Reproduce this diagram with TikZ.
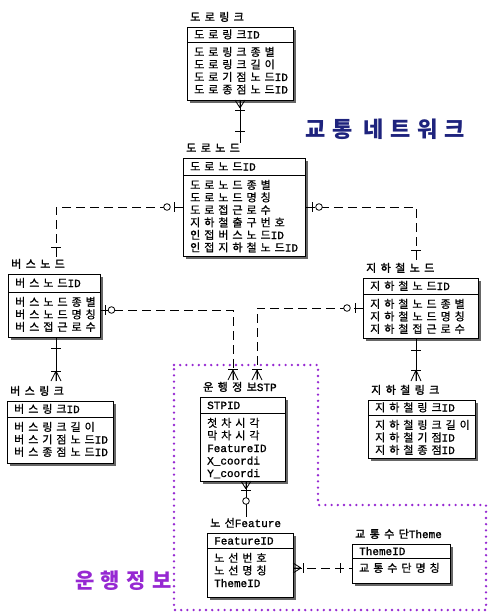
\documentclass[tikz,border=0pt]{standalone}
\usepackage{fontspec}
\usetikzlibrary{shadows}
\newfontfamily\krf{Noto Sans CJK KR}[LetterSpace=36, FakeBold=0.8]
\newfontfamily\krt{Noto Sans CJK KR}[LetterSpace=40, FakeBold=1.8]
\newfontfamily\krbig{Noto Sans CJK KR}[LetterSpace=30]
\newfontfamily\latf{Liberation Mono}[FakeBold=1.2]
\newcommand\lat[1]{{\latf #1}}
\definecolor{purp}{RGB}{150,40,210}
\definecolor{navy}{RGB}{30,35,125}
\tikzset{
  txt/.style={font=\krf\fontsize{11}{12.5}\selectfont, inner sep=0pt},
  ttl/.style={font=\krt\fontsize{11}{12.5}\selectfont, inner sep=0pt},
  ebox/.style={draw, fill=white, line width=0.8pt, inner sep=0pt,
    drop shadow={shadow xshift=3pt, shadow yshift=-3pt, opacity=1, fill=black!60}},
  conn/.style={line width=0.8pt},
  dashc/.style={conn, dash pattern=on 9pt off 5pt},
  mk/.style={line width=0.8pt, solid},
}
\newcommand\erent[9]{%
  \node[ttl, anchor=base west] (#1T) at ({#2+3},{#3-6}) {#7};
  \node[ebox, anchor=north west, minimum width=#4pt, minimum height=#5pt] (#1) at (#2,#3) {};
  \draw[line width=0.8pt] ([yshift=-#6pt]#1.north west) -- ([yshift=-#6pt]#1.north east);
  \node[txt, anchor=base west] (#1K) at ({#2+7},{#3+#6/2+4}) {#8};
  \foreach \a [count=\i] in {#9} {
    \node[txt, anchor=base west] (#1A\i) at ({#2+7},{#3+#6+14+(\i-1)*12.5}) {\a};
  }
}
\newcommand\mkbarh[2]{\draw[mk] (#1,#2-5) -- (#1,#2+5);}
\newcommand\mkbarv[2]{\draw[mk] (#1-5,#2) -- (#1+5,#2);}
\newcommand\mkcirc[2]{\draw[mk,fill=white] (#1,#2) circle (3.3);}
\newcommand\mkcrowv[3]{\draw[mk] (#1,#2) -- (#1-5,#3) (#1,#2) -- (#1,#3) (#1,#2) -- (#1+5,#3);}
\newcommand\mkcrowh[3]{\draw[mk] (#2,#1) -- (#3,#1-5) (#2,#1) -- (#3,#1) (#2,#1) -- (#3,#1+5);}
\begin{document}
\begin{tikzpicture}[x=1pt,y=-1pt]
\fill[white] (0,0) rectangle (489,615);
\useasboundingbox (0,0) rectangle (489,615);

% dotted region
\draw[purp, line width=2.6pt, line cap=round, dash pattern=on 0pt off 6.2pt]
  (174,365) -- (318,365) -- (318,505) -- (486,505) -- (486,610) -- (174,610) -- cycle;

% labels
\node[font=\krbig\fontsize{22}{24}\selectfont\bfseries, text=navy, anchor=west, inner sep=0pt] (lblNet) at (305,129) {교통 네트워크};
\node[font=\krbig\fontsize{21}{24}\selectfont\bfseries, text=purp, anchor=west, inner sep=0pt] (lblOp) at (75,581) {운행정보};

% entities
\erent{dlink}{187}{27}{106}{73}{15}{도로링크}{도로링크\lat{ID}}{도로링크종별,도로링크길이,도로기점노드\lat{ID},도로종점노드\lat{ID}}
\erent{dnode}{183}{158}{122}{98}{17}{도로노드}{도로노드\lat{ID}}{도로노드종별,도로노드명칭,도로접근로수,지하철출구번호,인접버스노드\lat{ID},인접지하철노드\lat{ID}}
\erent{bnode}{8}{274}{92}{63}{18}{버스노드}{버스노드\lat{ID}}{버스노드종별,버스노드명칭,버스접근로수}
\erent{snode}{363}{278}{115}{60}{16}{지하철노드}{지하철노드\lat{ID}}{지하철노드종별,지하철노드명칭,지하철접근로수}
\erent{blink}{7}{401}{106}{62}{16}{버스링크}{버스링크\lat{ID}}{버스링크길이,버스기점노드\lat{ID},버스종점노드\lat{ID}}
\erent{slink}{368}{400}{107}{58}{15}{지하철링크}{지하철링크\lat{ID}}{지하철링크길이,지하철기점\lat{ID},지하철종점\lat{ID}}
\erent{stp}{200}{397}{85}{84}{16}{운행정보\lat{STP}}{\lat{STPID}}{첫차시각,막차시각,\lat{FeatureID},\lat{X\_coordi},\lat{Y\_coordi}}
\erent{feat}{207}{533}{86}{64}{15}{노선\lat{Feature}}{\lat{FeatureID}}{노선번호,노선명칭,\lat{ThemeID}}
\erent{theme}{352}{544}{98}{39}{14}{교통수단\lat{Theme}}{\lat{ThemeID}}{교통수단명칭}

% connector end coordinates
\coordinate (bnIn) at (56,257);
\coordinate (snIn) at (416,261);
\coordinate (bnOut) at (100,310);
\coordinate (snOut) at (363,308);
\coordinate (stpIn1) at (233,380);
\coordinate (stpIn2) at (257,380);
\coordinate (bnBot) at (56,337);
\coordinate (blIn) at (56,381);
\coordinate (snBot) at (416,338);
\coordinate (slIn) at (416,381);
\coordinate (stpBot) at (246,481);
\coordinate (ftIn) at (246,517);
\coordinate (ftOut) at (293,568);
\coordinate (thIn) at (352,568);

% connectors
\draw[conn] (dlink.south) -- (dlink.south |- dnodeT.north);
\draw[dashc] (dnode.west) -| (bnIn);
\draw[dashc] (dnode.east) -| (snIn);
\draw[dashc] (bnOut) -| (stpIn1);
\draw[dashc] (snOut) -| (stpIn2);
\draw[conn] (bnBot) -- (blIn);
\draw[conn] (snBot) -- (slIn);
\draw[conn] (stpBot) -- (ftIn);
\draw[dashc] (ftOut) -- (thIn);

% marks
\mkcrowv{240}{108}{100} \mkbarv{240}{110} \mkbarv{240}{131}
\mkcirc{167}{207} \mkbarh{174}{207} \mkbarv{56}{247}
\mkbarh{312}{207} \mkcirc{319}{207} \mkbarv{416}{250}
\mkbarh{105}{310} \mkcirc{111.5}{310} \mkbarv{233}{369} \mkcrowv{233}{370}{380}
\mkcirc{347}{308} \mkbarh{355}{308} \mkbarv{257}{369} \mkcrowv{257}{370}{380}
\mkbarv{56}{348} \mkbarv{56}{371} \mkcrowv{56}{371}{381}
\mkbarv{416}{350} \mkbarv{416}{370} \mkcrowv{416}{370}{381}
\mkcrowv{246}{489}{481} \mkbarv{246}{490} \mkcirc{246}{501}
\mkcrowh{568}{301}{293} \mkbarh{303}{568} \mkbarh{340}{568}
\end{tikzpicture}
\end{document}
